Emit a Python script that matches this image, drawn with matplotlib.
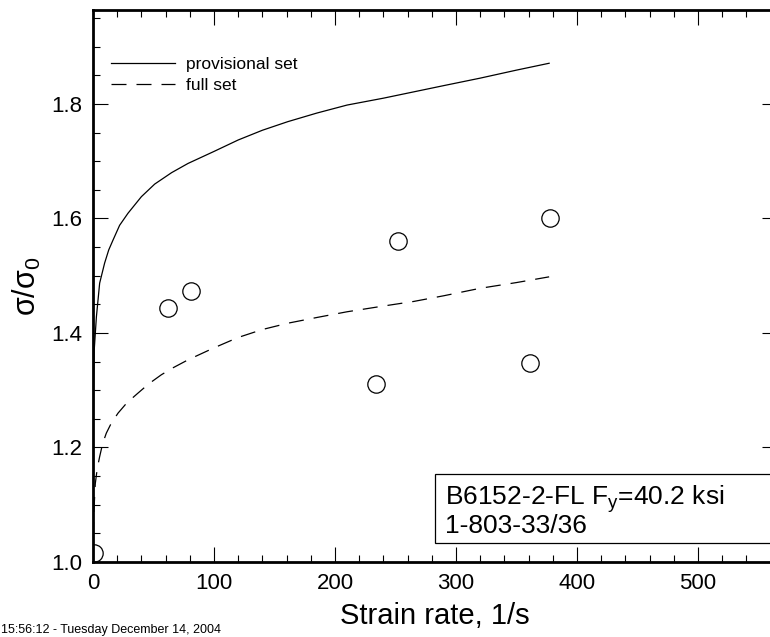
import matplotlib
matplotlib.use("Agg")
import matplotlib.pyplot as plt
from matplotlib.ticker import MultipleLocator
from matplotlib.patches import Rectangle

plt.rcParams['font.family'] = ['Liberation Sans', 'DejaVu Sans']
plt.rcParams['mathtext.fontset'] = 'custom'
plt.rcParams['mathtext.rm'] = 'Liberation Sans'
plt.rcParams['mathtext.it'] = 'Liberation Sans'

# --- data ---
# test points (strain rate, sigma/sigma0)
test_rate = [0.5, 62, 81, 234, 252, 361, 378]
test_ratio = [1.016, 1.444, 1.474, 1.310, 1.561, 1.347, 1.601]

# provisional set curve
prov_rate = [0, 0.1, 0.5, 1, 2.8, 5.5, 9.6, 13, 16.5, 22, 28.9, 40, 51, 65, 78.5, 100,
             120, 140, 161, 185, 210, 240, 265, 290, 320, 350, 377]
prov_ratio = [1.0, 1.15, 1.313, 1.37, 1.428, 1.487, 1.522, 1.545, 1.562, 1.588, 1.609,
              1.638, 1.660, 1.680, 1.696, 1.717, 1.737, 1.754, 1.769, 1.784, 1.798,
              1.810, 1.821, 1.832, 1.845, 1.859, 1.871]

# full set curve
full_rate = [0, 0.5, 1.9, 3.5, 5.5, 8, 11, 15, 20.7, 28, 37.2, 46, 56.5, 66, 78.5, 100,
             119.8, 140, 161, 185, 210, 240, 265, 290, 320, 350, 377]
full_ratio = [1.0, 1.079, 1.137, 1.163, 1.184, 1.207, 1.225, 1.242, 1.260, 1.278, 1.295,
              1.311, 1.327, 1.339, 1.353, 1.374, 1.392, 1.406, 1.417, 1.427, 1.437,
              1.447, 1.455, 1.465, 1.478, 1.488, 1.498]

x_ticks = [0, 100, 200, 300, 400, 500]
y_ticks = [1.0, 1.2, 1.4, 1.6, 1.8]

W, H = 770, 637
fig = plt.figure(figsize=(7.7, 6.37), dpi=100)
ax = fig.add_axes([93 / W, 1 - 562 / H, 683.6 / W, 552 / H])

ax.plot(prov_rate, prov_ratio, color='black', lw=0.9, label='provisional set')
ax.plot(full_rate, full_ratio, color='black', lw=0.9, dashes=(12, 8), label='full set')
ax.plot(test_rate, test_ratio, 'o', ms=12.5, mfc='none', mec='black', mew=0.9)

ax.set_xlim(0, 565)
ax.set_ylim(1.0, 1.964)
ax.set_xticks(x_ticks)
ax.set_yticks(y_ticks)
ax.set_yticklabels([f"{v:.1f}" for v in y_ticks])
ax.xaxis.set_minor_locator(MultipleLocator(20))
ax.yaxis.set_minor_locator(MultipleLocator(0.05))
ax.tick_params(which='both', direction='in', top=True, right=True, width=0.8)
ax.tick_params(which='major', length=11, labelsize=16, pad=8)
ax.tick_params(which='minor', length=5)
for s in ax.spines.values():
    s.set_linewidth(2.0)

ax.set_xlabel("Strain rate, 1/s", fontsize=21, labelpad=6)
ax.set_ylabel(r"$\sigma/\sigma_0$", fontsize=22, labelpad=6)

ax.legend(loc='upper left', bbox_to_anchor=(0.014, 0.93), frameon=False, fontsize=12.5,
          handlelength=3.7, handletextpad=0.6, labelspacing=0.3, borderpad=0)

# info box, running off the right edge like the reference
fig.add_artist(Rectangle((435 / W, 1 - 543 / H), 400 / W, 69 / H, transform=fig.transFigure,
                         fc='white', ec='black', lw=0.9, zorder=5))
fig.text(445 / W, 1 - 505 / H, "B6152-2-FL F$_{y}$=40.2 ksi", fontsize=19,
         va='baseline', ha='left', zorder=6)
fig.text(445 / W, 1 - 533 / H, "1-803-33/36", fontsize=19, va='baseline', ha='left', zorder=6)

fig.text(0.001, 0.002, "15:56:12 - Tuesday December 14, 2004", fontsize=9, va='bottom')

fig.savefig("out.png", dpi=100)
